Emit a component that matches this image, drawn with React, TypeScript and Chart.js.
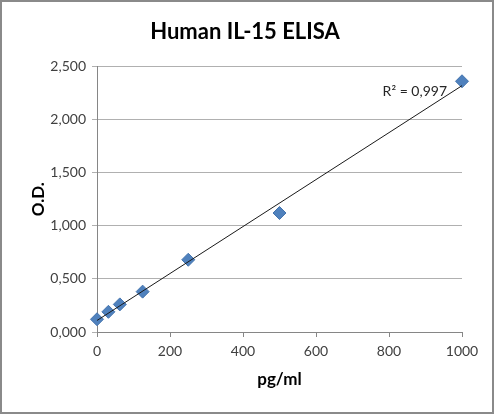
import { useEffect, useRef } from "react"
import { Chart, ChartConfiguration, registerables } from "chart.js"

Chart.register(...registerables)

// pg/ml standards and their optical densities
const concentrations = [0, 31.25, 62.5, 125, 250, 500, 1000]
const odValues = [0.12, 0.19, 0.26, 0.38, 0.68, 1.12, 2.36]
const xTicks = [0, 200, 400, 600, 800, 1000]
const yTicks = [0, 0.5, 1, 1.5, 2, 2.5]
const titleText = "Human IL-15 ELISA"
const r2Label = "R² = 0,997"

const FONT = "Lato, 'Liberation Sans', sans-serif"

// least squares trendline through the standards
function linearFit(xs: number[], ys: number[]) {
  const n = xs.length
  const mx = xs.reduce((a, b) => a + b, 0) / n
  const my = ys.reduce((a, b) => a + b, 0) / n
  let sxy = 0
  let sxx = 0
  xs.forEach((x, i) => {
    sxy += (x - mx) * (ys[i] - my)
    sxx += (x - mx) * (x - mx)
  })
  const slope = sxy / sxx
  return { slope, intercept: my - slope * mx }
}

const r2Plugin = {
  id: "r2Label",
  afterDatasetsDraw(chart: Chart) {
    const { ctx, chartArea } = chart
    ctx.save()
    ctx.font = `14px ${FONT}`
    ctx.fillStyle = "#262626"
    ctx.textAlign = "right"
    ctx.textBaseline = "alphabetic"
    ctx.fillText(r2Label, chartArea.right - 15, chartArea.top + 30)
    ctx.restore()
  },
}

export default function App() {
  const chartRef = useRef<HTMLCanvasElement>(null)
  const chartInstanceRef = useRef<Chart | null>(null)

  useEffect(() => {
    document.body.style.margin = "0"
    if (!chartRef.current) return
    if (chartInstanceRef.current) chartInstanceRef.current.destroy()

    const fit = linearFit(concentrations, odValues)
    const xMin = xTicks[0]
    const xMax = xTicks[xTicks.length - 1]

    const config: ChartConfiguration = {
      type: "scatter",
      data: {
        datasets: [
          {
            type: "line",
            label: "Trend",
            data: [
              { x: xMin, y: fit.intercept + fit.slope * xMin },
              { x: xMax, y: fit.intercept + fit.slope * xMax },
            ],
            borderColor: "#1a1a1a",
            borderWidth: 1,
            pointRadius: 0,
            fill: false,
          },
          {
            label: "O.D.",
            data: concentrations.map((x, i) => ({ x, y: odValues[i] })),
            pointStyle: "rectRot",
            pointRadius: 6.5,
            backgroundColor: "#4F81BD",
            borderColor: "#4474AE",
            borderWidth: 1,
            clip: false,
          },
        ],
      },
      options: {
        responsive: true,
        maintainAspectRatio: false,
        animation: false,
        layout: { padding: { left: 26, right: 30, top: 0, bottom: 0 } },
        plugins: {
          legend: { display: false },
          tooltip: { enabled: false },
          title: {
            display: true,
            text: titleText,
            color: "#000000",
            font: { family: FONT, size: 22, weight: "bold" },
            padding: { top: 17, bottom: 21 },
          },
        },
        scales: {
          x: {
            type: "linear",
            min: xMin,
            max: xMax,
            afterBuildTicks: (axis) => {
              axis.ticks = xTicks.map((v) => ({ value: v }))
            },
            afterFit: (axis) => {
              axis.height = 80
            },
            grid: {
              drawOnChartArea: false,
              drawTicks: true,
              tickLength: 5,
              color: "#868686",
            },
            border: { display: true, color: "#868686" },
            ticks: {
              color: "#404040",
              font: { family: FONT, size: 14 },
              padding: 6,
              maxRotation: 0,
              callback: (value) => String(value),
            },
            title: {
              display: true,
              text: "pg/ml",
              color: "#000000",
              font: { family: FONT, size: 17, weight: "bold" },
              padding: { top: 0, bottom: 22 },
            },
          },
          y: {
            type: "linear",
            min: yTicks[0],
            max: yTicks[yTicks.length - 1],
            afterBuildTicks: (axis) => {
              axis.ticks = yTicks.map((v) => ({ value: v }))
            },
            afterFit: (axis) => {
              axis.width = 69
            },
            grid: {
              color: "#b0b0b0",
              drawTicks: true,
              tickLength: 5,
            },
            border: { display: true, color: "#868686" },
            ticks: {
              color: "#404040",
              font: { family: FONT, size: 14 },
              padding: 6,
              callback: (value) => Number(value).toFixed(3).replace(".", ","),
            },
            title: {
              display: true,
              text: "O.D.",
              color: "#000000",
              font: { family: FONT, size: 17, weight: "bold" },
              padding: { top: 0, bottom: 0 },
            },
          },
        },
      },
      plugins: [r2Plugin],
    }

    chartInstanceRef.current = new Chart(chartRef.current, config)

    return () => {
      if (chartInstanceRef.current) {
        chartInstanceRef.current.destroy()
        chartInstanceRef.current = null
      }
    }
  }, [])

  return (
    <div
      style={{
        position: "fixed",
        left: 0,
        top: 0,
        width: 494,
        height: 414,
        boxSizing: "border-box",
        border: "2px solid #8a8a8a",
        background: "#ffffff",
      }}
    >
      <div style={{ position: "relative", width: 490, height: 410 }}>
        <canvas ref={chartRef} />
      </div>
    </div>
  )
}
